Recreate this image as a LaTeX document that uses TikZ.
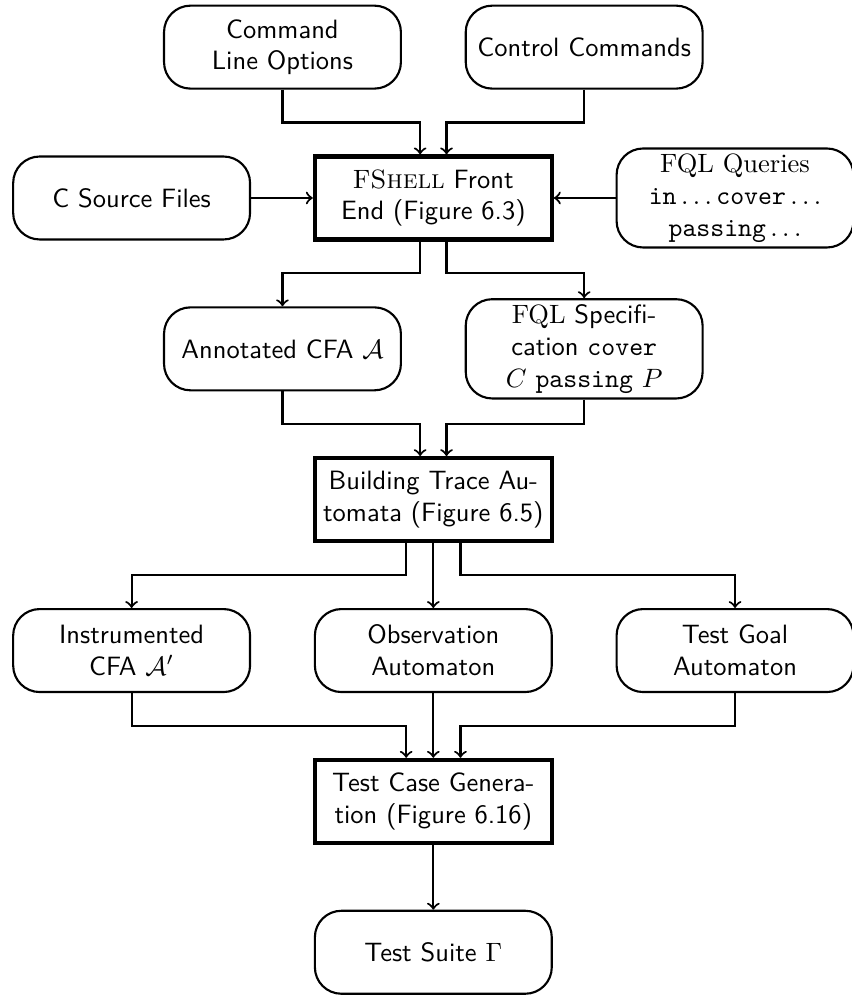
\documentclass[tikz,border=0pt]{standalone}
\usetikzlibrary{calc}
\begin{document}
\begin{tikzpicture}[
  font=\sffamily,
  box/.style={draw, thick, rounded corners=10pt, text width=3cm, align=center,
              inner sep=2pt, minimum height=1.1cm},
  stage/.style={draw, line width=1.6pt, text width=3cm, align=center,
              inner sep=2pt, minimum height=1.1cm},
  arr/.style={->, thick}
]
\useasboundingbox (-5.745,-12.58) rectangle (5.545,0.625);

% inputs
\node[box] (cmd) at (-2,0) {Command\\Line Options};
\node[box] (ctl) at (2,0) {Control Commands};
\node[box] (src) at (-4,-2) {C Source Files};
\node[stage] (fsh) at (0,-2) {\textrm{F\textsc{Shell}} Front\\End (Figure 6.3)};
\node[box] (fql) at (4,-2) {\textrm{FQL Queries}\\\texttt{in}$\,\ldots\,$\texttt{cover}$\,\ldots$\\\texttt{passing}$\,\ldots$};

% front end results
\node[box] (ann) at (-2,-4) {Annotated CFA $\mathcal{A}$};
\node[box] (spec) at (2,-4) {\textrm{FQL} Specifi-\\cation \texttt{cover}\\$C$ \texttt{passing} $P$};

\node[stage] (bta) at (0,-6) {Building Trace Au-\\tomata (Figure 6.5)};

% automata
\node[box] (ins) at (-4,-8) {Instrumented\\CFA $\mathcal{A}'$};
\node[box] (obs) at (0,-8) {Observation\\Automaton};
\node[box] (goal) at (4,-8) {Test Goal\\Automaton};

\node[stage] (tcg) at (0,-10) {Test Case Genera-\\tion (Figure 6.16)};
\node[box] (suite) at (0,-12) {Test Suite $\Gamma$};

% levels of the horizontal runs
\coordinate (j1) at (0,-1);
\coordinate (j2) at (0,-3);
\coordinate (j3) at (0,-5);
\coordinate (j4) at (0,-7);
\coordinate (j5) at (0,-9);

% connectors
\draw[arr] (cmd.south) |- ([xshift=-0.175cm]j1) -- ([xshift=-0.175cm]fsh.north);
\draw[arr] (ctl.south) |- ([xshift=0.175cm]j1) -- ([xshift=0.175cm]fsh.north);
\draw[arr] (src) -- (fsh);
\draw[arr] (fql) -- (fsh);

\draw[arr] ([xshift=-0.175cm]fsh.south) -- ([xshift=-0.175cm]j2) -| (ann.north);
\draw[arr] ([xshift=0.175cm]fsh.south) -- ([xshift=0.175cm]j2) -| (spec.north);

\draw[arr] (ann.south) |- ([xshift=-0.175cm]j3) -- ([xshift=-0.175cm]bta.north);
\draw[arr] (spec.south) |- ([xshift=0.175cm]j3) -- ([xshift=0.175cm]bta.north);

\draw[arr] ([xshift=-0.36cm]bta.south) -- ([xshift=-0.36cm]j4) -| (ins.north);
\draw[arr] (bta) -- (obs);
\draw[arr] ([xshift=0.36cm]bta.south) -- ([xshift=0.36cm]j4) -| (goal.north);

\draw[arr] (ins.south) |- ([xshift=-0.36cm]j5) -- ([xshift=-0.36cm]tcg.north);
\draw[arr] (obs) -- (tcg);
\draw[arr] (goal.south) |- ([xshift=0.36cm]j5) -- ([xshift=0.36cm]tcg.north);

\draw[arr] (tcg) -- (suite);
\end{tikzpicture}
\end{document}
